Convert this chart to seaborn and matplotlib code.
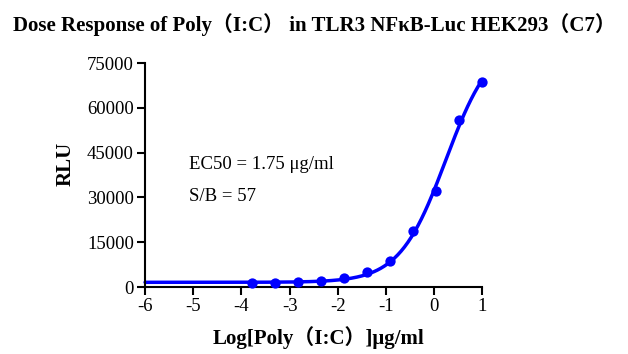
import numpy as np
import matplotlib
matplotlib.use("Agg")
import matplotlib.pyplot as plt
import seaborn as sns

# 3-fold dilution series, top dose 10 ug/ml
log_dose = [1.0, 0.523, 0.046, -0.431, -0.908, -1.386, -1.863, -2.340, -2.817, -3.294, -3.771]
rlu = [68700, 55900, 32300, 18900, 8800, 5100, 3100, 2100, 1550, 1450, 1400]

x_ticks = [-6, -5, -4, -3, -2, -1, 0, 1]
y_ticks = [0, 15000, 30000, 45000, 60000, 75000]

title = "Dose Response of Poly\uff08I:C\uff09 in TLR3 NF\u03baB-Luc HEK293\uff08C7\uff09"
x_label = "Log[Poly\uff08I:C\uff09]\u03bcg/ml"
y_label = "RLU"
ec50_text = "EC50 = 1.75 \u03bcg/ml"
sb_text = "S/B = 57"


def four_pl(x, bottom, top, log_ec50, hill):
    return bottom + (top - bottom) / (1 + 10 ** ((log_ec50 - x) * hill))


def fit_curve(x, y, log_ec50):
    # crude grid search least squares fit, EC50 fixed to the reported value
    x = np.asarray(x)
    y = np.asarray(y)
    best = None
    for bottom in np.linspace(800, 1600, 9):
        for top in np.linspace(70000, 100000, 61):
            for hill in np.linspace(0.6, 1.5, 46):
                sse = np.sum((four_pl(x, bottom, top, log_ec50, hill) - y) ** 2)
                if best is None or sse < best[0]:
                    best = (sse, bottom, top, hill)
    return best[1:]


sns.set_style("ticks")
plt.rcParams["font.family"] = ["Liberation Serif", "Noto Sans CJK SC", "DejaVu Sans"]
plt.rcParams["text.color"] = "black"
plt.rcParams["axes.labelcolor"] = "black"

fig = plt.figure(figsize=(6.28, 3.54), dpi=100)
ax = fig.add_axes([0.231, 0.189, 0.537, 0.633])

log_ec50 = np.log10(1.75)
bottom, top, hill = fit_curve(log_dose, rlu, log_ec50)
xs = np.linspace(-6, 1, 300)
sns.lineplot(x=xs, y=four_pl(xs, bottom, top, log_ec50, hill), color="#0000ff",
             linewidth=2.5, ax=ax, clip_on=False)
sns.scatterplot(x=log_dose, y=rlu, color="#0000ff", s=55, edgecolor="#0000ff",
                linewidth=0, ax=ax, clip_on=False, zorder=3)

ax.set_xlim(-6, 1)
ax.set_ylim(0, 75000)
ax.set_xticks(x_ticks)
ax.set_yticks(y_ticks)
ax.set_xticklabels([str(t) for t in x_ticks])
ax.set_yticklabels([str(t) for t in y_ticks])
ax.tick_params(axis="both", direction="out", length=6, width=1.5, labelsize=13.5,
               colors="black", pad=2)
for side in ["left", "bottom"]:
    ax.spines[side].set_linewidth(1.5)
    ax.spines[side].set_color("black")
sns.despine(ax=ax)

ax.set_xlabel(x_label, fontsize=15, fontweight="bold", labelpad=9)
ax.xaxis.set_label_coords(0.515, -0.175)
ax.set_ylabel(y_label, fontsize=15, fontweight="bold")
ax.yaxis.set_label_coords(-0.205, 0.55)
fig.text(0.5, 0.93, title, ha="center", va="center", fontsize=15.0, fontweight="bold")

ax.text(-5.08, 39500, ec50_text, fontsize=13.5, va="baseline", ha="left")
ax.text(-5.08, 28900, sb_text, fontsize=13.5, va="baseline", ha="left")

fig.savefig("out.png", dpi=100)
